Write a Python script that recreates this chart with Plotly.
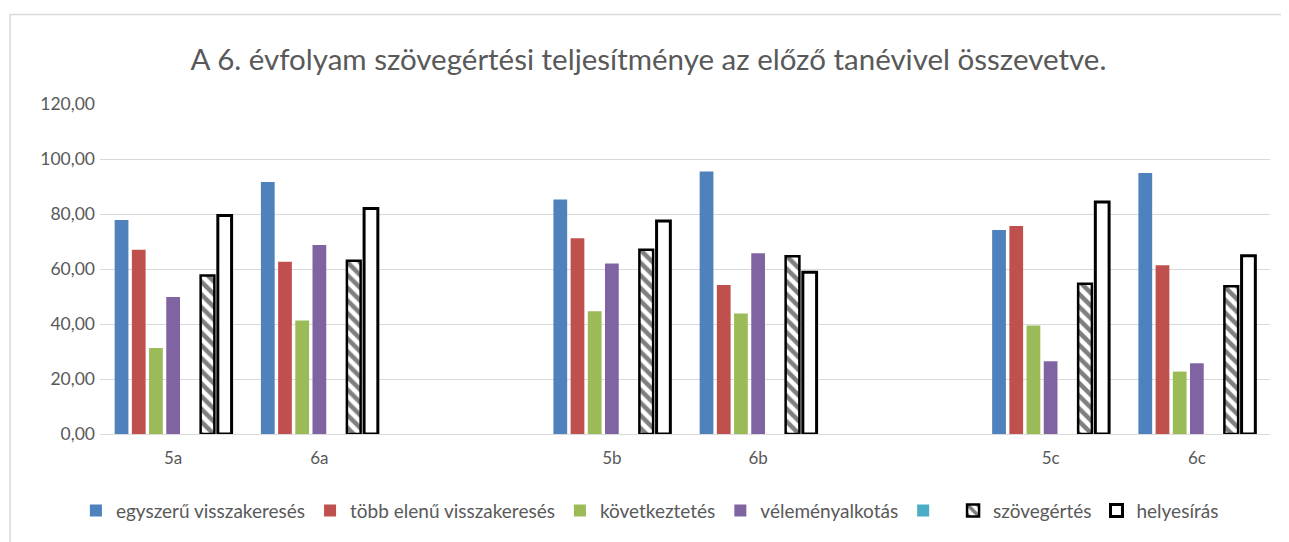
import plotly.graph_objects as go

categories = ["5a", "6a", "", "5b", "6b", "", "5c", "6c"]

egyszeru = [77.8, 91.6, None, 85.3, 95.5, None, 74.2, 94.9]
tobb_elemu = [67.0, 62.6, None, 71.2, 54.2, None, 75.6, 61.4]
kovetkeztetes = [31.3, 41.3, None, 44.6, 43.8, None, 39.5, 22.7]
velemenyalkotas = [49.8, 68.7, None, 62.0, 65.7, None, 26.5, 25.7]
ures = [None] * 8
szovegertes = [57.6, 63.0, None, 67.0, 64.6, None, 54.6, 53.7]
helyesiras = [79.5, 82.0, None, 77.5, 58.8, None, 84.4, 64.8]

y_ticks = [0, 20, 40, 60, 80, 100, 120]

title_text = "A 6. évfolyam szövegértési teljesítménye az előző tanévivel összevetve."

x = list(range(len(categories)))
FONT = "Lato"
GREY = "#595959"

fig = go.Figure()

solid = [
    ("egyszerű visszakeresés", egyszeru, "#4f81bd"),
    ("több elenű visszakeresés", tobb_elemu, "#c0504d"),
    ("következtetés", kovetkeztetes, "#9bbb59"),
    ("véleményalkotás", velemenyalkotas, "#8064a2"),
    (" ", ures, "#4bacc6"),
]
for name, vals, col in solid:
    fig.add_trace(go.Bar(x=x, y=vals, name=name,
                         marker=dict(color=col, line=dict(width=0))))

fig.add_trace(go.Bar(
    x=x, y=szovegertes, name="szövegértés",
    marker=dict(color="white",
                pattern=dict(shape="\\", fgcolor="black", bgcolor="white",
                             size=9, solidity=0.5),
                line=dict(color="black", width=2.5)),
))
fig.add_trace(go.Bar(
    x=x, y=helyesiras, name="helyesírás",
    marker=dict(color="white", line=dict(color="black", width=3)),
))

fig.update_layout(
    width=1281, height=534,
    margin=dict(l=92, r=19, t=96, b=106),
    paper_bgcolor="white", plot_bgcolor="white",
    separators=", ",
    barmode="group", bargap=0.177, bargroupgap=0.2,
    title=dict(text=title_text, x=0.5, xanchor="center", y=0.903, yanchor="middle",
               font=dict(family=FONT, size=29.5, color=GREY)),
    font=dict(family=FONT, color=GREY),
    xaxis=dict(tickmode="array", tickvals=x, ticktext=categories,
               range=[-0.5, len(categories) - 0.5],
               showgrid=False, zeroline=False, showline=False,
               ticks="", ticklabelstandoff=12,
               tickfont=dict(size=17, color=GREY)),
    yaxis=dict(range=[0, 120], tickvals=y_ticks, tickformat=".2f",
               showgrid=True, gridcolor="#d9d9d9", gridwidth=1,
               zeroline=True, zerolinecolor="#d9d9d9", zerolinewidth=1,
               showline=False, ticks="", ticklen=0, ticklabelstandoff=4,
               tickfont=dict(size=17.5, color=GREY)),
    legend=dict(orientation="h", x=0.47, xanchor="center", y=-0.232, yanchor="middle",
                font=dict(family=FONT, size=19, color=GREY),
                itemwidth=30, traceorder="normal"),
    showlegend=True,
    shapes=[dict(type="rect", xref="paper", yref="paper",
                 x0=-0.0769, x1=1.05, y0=-0.6, y1=1.271,
                 line=dict(color="#d9d9d9", width=1.5), layer="below")],
)

fig.write_html("out.html")
